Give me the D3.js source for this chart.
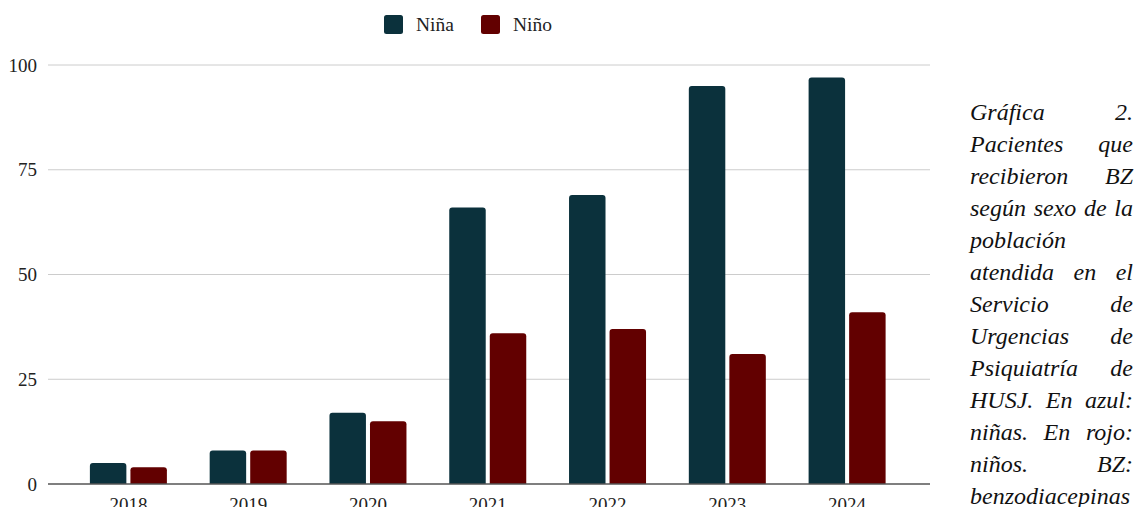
<!DOCTYPE html>
<html>
<head>
<meta charset="utf-8">
<script src="https://cdn.jsdelivr.net/npm/d3@7"></script>
<style>
  html, body { margin: 0; padding: 0; background: #fff; overflow: hidden; }
  svg { display: block; font-family: "Liberation Serif", "Times New Roman", serif; }
</style>
</head>
<body>
<svg id="chart" width="1135" height="507"></svg>
<script>
const years = ["2018", "2019", "2020", "2021", "2022", "2023", "2024"];
const series = ["Niña", "Niño"];
const ninaValues = [5, 8, 17, 66, 69, 95, 97];
const ninoValues = [4, 8, 15, 36, 37, 31, 41];
const yTicks = [0, 25, 50, 75, 100];
const colors = ["#0b313c", "#620000"];
const captionLines = [
  "Gráfica 2.",
  "Pacientes que",
  "recibieron BZ",
  "según sexo de la",
  "población",
  "atendida en el",
  "Servicio de",
  "Urgencias de",
  "Psiquiatría de",
  "HUSJ. En azul:",
  "niñas. En rojo:",
  "niños. BZ:",
  "benzodiacepinas"
];
const leftAlignedLines = [4, 12];

const svg = d3.select("#chart");
const valuesBySeries = [ninaValues, ninoValues];

const x = d3.scaleBand().domain(years).range([68.5, 907]).padding(0);
const xs = d3.scaleBand().domain(series).range([-38.5, 38.5]).paddingInner(0.1);
const y = d3.scaleLinear().domain([0, 100]).range([484, 65]);

const gridLeft = 48, gridRight = 930;

svg.append("g").selectAll("line").data(yTicks.filter(d => d !== 0)).join("line")
  .attr("x1", gridLeft).attr("x2", gridRight)
  .attr("y1", d => y(d)).attr("y2", d => y(d))
  .attr("stroke", "#cccccc").attr("stroke-width", 1);

svg.append("g").selectAll("text").data(yTicks).join("text")
  .attr("x", 37).attr("y", d => y(d) + 6.5)
  .attr("text-anchor", "end")
  .attr("font-size", 19).attr("fill", "#222")
  .text(d => d);

function barPath(x0, w, yTop, yBase, r) {
  const h = yBase - yTop;
  r = Math.min(r, h / 2, w / 2);
  return `M${x0},${yBase}V${yTop + r}Q${x0},${yTop} ${x0 + r},${yTop}H${x0 + w - r}Q${x0 + w},${yTop} ${x0 + w},${yTop + r}V${yBase}Z`;
}
const barData = [];
years.forEach((yr, i) => {
  series.forEach((s, j) => {
    barData.push({ yr, s, j, v: valuesBySeries[j][i] });
  });
});
svg.append("g").selectAll("path").data(barData).join("path")
  .attr("d", d => barPath(x(d.yr) + x.bandwidth() / 2 + xs(d.s), xs.bandwidth(), y(d.v), y(0), 3))
  .attr("fill", d => colors[d.j]);

svg.append("line")
  .attr("x1", gridLeft).attr("x2", gridRight)
  .attr("y1", y(0)).attr("y2", y(0))
  .attr("stroke", "#555").attr("stroke-width", 1.5);

svg.append("g").selectAll("text").data(years).join("text")
  .attr("x", d => x(d) + x.bandwidth() / 2)
  .attr("y", 511)
  .attr("text-anchor", "middle")
  .attr("font-size", 19).attr("fill", "#222")
  .text(d => d);

const legendX = [384, 481];
const lg = svg.append("g").selectAll("g").data(series).join("g");
lg.append("rect")
  .attr("x", (d, i) => legendX[i]).attr("y", 15)
  .attr("width", 19).attr("height", 19).attr("rx", 2.5)
  .attr("fill", (d, i) => colors[i]);
lg.append("text")
  .attr("x", (d, i) => legendX[i] + 32).attr("y", 31)
  .attr("font-size", 19.5).attr("fill", "#222")
  .text(d => d);

// caption (justified), font sized so that the longest line fills the column
const capLeft = 970, capRight = 1133;
const cap = svg.append("g").attr("font-style", "italic").attr("fill", "#111");
const probe = cap.append("text").attr("font-size", 20).text("benzodiacepinas");
const probeW = probe.node().getComputedTextLength();
probe.remove();
const capSize = Math.min(24, 20 * (capRight - capLeft) / probeW);
cap.attr("font-size", capSize);
captionLines.forEach((line, i) => {
  const by = 120 + 32 * i;
  const words = line.split(" ");
  const nodes = words.map(w => cap.append("text").attr("y", by).text(w));
  const widths = nodes.map(n => n.node().getComputedTextLength());
  if (leftAlignedLines.includes(i) || words.length === 1) {
    const sp = capSize * 0.25;
    let cx = capLeft;
    nodes.forEach((n, k) => { n.attr("x", cx); cx += widths[k] + sp; });
  } else {
    const total = d3.sum(widths);
    const gap = (capRight - capLeft - total) / (words.length - 1);
    let cx = capLeft;
    nodes.forEach((n, k) => { n.attr("x", cx); cx += widths[k] + gap; });
  }
});
</script>
</body>
</html>
